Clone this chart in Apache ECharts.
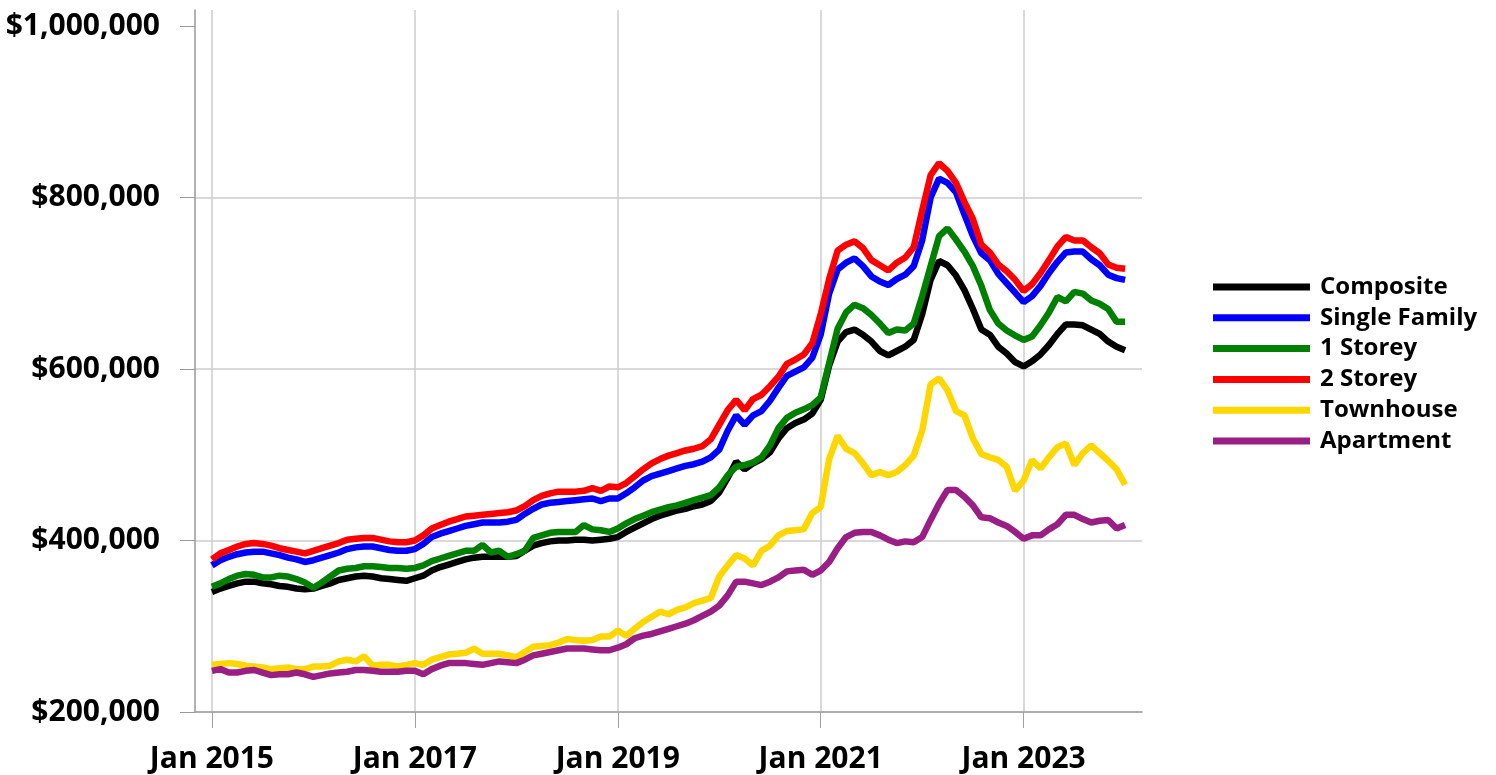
<!DOCTYPE html>
<html>
<head>
<meta charset="utf-8">
<script src="https://cdn.jsdelivr.net/npm/echarts@6/dist/echarts.min.js"></script>
<style>
html,body{margin:0;padding:0;background:#fff;}
#c{width:1496px;height:775px;}
</style>
</head>
<body>
<div id="c"></div>
<script>
// Monthly values in thousands of dollars, Jan 2015 .. Jan 2024
const years = [2014,2015,2016,2017,2018,2019,2020,2021,2022,2023,2024];
const monthNames = ['Jan','Feb','Mar','Apr','May','Jun','Jul','Aug','Sep','Oct','Nov','Dec'];
const seriesNames = ['Composite','Single Family','1 Storey','2 Storey','Townhouse','Apartment'];
const seriesColors = ['#000000','#0000ff','#008000','#ff0000','#ffd700','#9a1f84'];
const yTickValues = [200,400,600,800,1000];

const composite = [
340,344,347,350,352,352,350,349,347,346,344,343,
344,347,350,354,356,358,359,358,356,355,354,353,
356,359,365,369,372,375,378,380,381,381,381,381,
382,388,394,397,399,400,400,401,401,400,401,402,
404,410,415,420,425,429,432,435,437,440,442,446,
456,473,492,483,490,495,503,519,531,537,541,548,
564,604,632,643,646,640,632,621,616,621,626,634,
664,704,726,721,709,692,670,646,640,626,618,608,
603,609,617,628,641,652,652,651,646,641,632,626,
622];
const singleFamily = [
371,377,381,384,386,387,387,385,383,380,378,375,
377,380,383,386,390,392,393,393,391,389,388,388,
390,396,404,408,411,414,417,419,421,421,421,422,
424,431,437,442,444,445,446,447,448,449,446,449,
449,455,462,470,475,478,481,484,487,489,492,497,
506,528,546,535,546,551,563,578,592,597,602,613,
640,688,716,724,729,720,708,702,698,705,710,720,
750,800,822,817,806,780,755,735,727,711,700,689,
678,685,697,712,725,736,737,737,728,721,710,706,
704];
const oneStorey = [
346,350,355,359,361,360,357,357,359,358,355,351,
345,351,358,365,367,368,370,370,369,368,368,367,
368,371,376,379,382,385,388,388,395,386,388,381,
384,388,403,406,409,410,410,410,418,413,412,410,
414,420,425,429,433,436,439,441,444,447,450,453,
462,476,486,488,491,497,511,531,543,549,553,558,
567,607,647,666,675,671,663,653,642,646,645,653,
685,720,755,764,751,737,720,697,669,653,645,639,
634,638,651,666,684,679,690,688,680,676,670,655,
655];
const twoStorey = [
378,385,389,393,396,397,396,394,391,389,387,385,
388,391,394,397,401,402,403,403,401,399,398,398,
400,406,414,418,422,425,428,429,430,431,432,433,
435,440,447,452,455,457,457,457,458,461,458,463,
462,467,475,483,490,495,499,502,505,507,510,518,
535,552,564,552,565,570,580,591,606,611,617,630,
664,705,738,745,749,741,727,721,715,724,730,742,
785,826,840,831,817,795,775,745,736,722,714,704,
691,699,712,727,743,754,750,750,742,735,722,718,
717];
const townhouse = [
255,256,257,256,254,253,252,250,251,252,250,250,
253,253,254,259,261,259,265,254,255,255,253,255,
257,255,261,264,267,268,269,274,268,268,268,266,
264,270,276,277,278,281,285,284,283,284,288,288,
295,289,297,305,311,317,314,319,322,327,330,333,
358,371,383,379,371,388,394,406,411,412,413,432,
439,495,522,507,502,490,476,480,476,480,488,499,
528,582,589,575,551,546,519,501,497,494,486,458,
470,494,484,497,509,513,488,502,511,502,493,483,
465];
const apartment = [
248,250,246,246,248,249,246,243,244,244,246,244,
241,243,245,246,247,249,249,248,247,247,247,248,
248,244,250,254,257,257,257,256,255,257,259,258,
257,261,266,268,270,272,274,274,274,273,272,272,
275,279,286,289,291,294,297,300,303,307,312,317,
324,336,352,352,350,348,352,357,364,365,366,360,
365,375,391,404,409,410,410,406,401,397,399,398,
404,424,443,459,459,451,441,427,426,421,417,410,
402,406,406,413,419,430,430,425,421,423,424,414,
418];

// Category axis: Nov 2014 .. Mar 2024 (two empty months padding at each end)
const categories = [];
years.forEach(function (y) {
  monthNames.forEach(function (m, i) {
    const key = y * 12 + i;
    if (key >= 2014 * 12 + 10 && key <= 2024 * 12 + 2) categories.push(m + ' ' + y);
  });
});
const padStart = 2, padEnd = 2;
function padded(arr) {
  const out = [];
  for (let i = 0; i < padStart; i++) out.push(null);
  arr.forEach(function (v) { out.push(v); });
  for (let i = 0; i < padEnd; i++) out.push(null);
  return out;
}
const allSeries = [composite, singleFamily, oneStorey, twoStorey, townhouse, apartment];

function isMajor(idx, val) {
  const parts = String(val).split(' ');
  return parts[0] === 'Jan' && (parseInt(parts[1], 10) % 2 === 1);
}
const FONT = 'Open Sans';

const chart = echarts.init(document.getElementById('c'), null, {renderer: 'canvas'});
chart.setOption({
  animation: false,
  backgroundColor: '#ffffff',
  grid: {left: 195, right: 354, top: 10, bottom: 63, containLabel: false},
  legend: {
    orient: 'vertical',
    left: 1208,
    top: 270,
    padding: 5,
    icon: 'rect',
    itemWidth: 97,
    itemHeight: 7,
    itemGap: 6.8,
    data: seriesNames,
    textStyle: {fontFamily: FONT, fontWeight: 'bold', fontSize: 24, lineHeight: 22, color: '#000', padding: [0, 0, 0, 5]}
  },
  xAxis: {
    type: 'category',
    boundaryGap: false,
    data: categories,
    axisLine: {show: true, lineStyle: {color: '#a0a0a0', width: 1.5}},
    axisTick: {show: true, length: 16, interval: isMajor, lineStyle: {color: '#a0a0a0', width: 1}},
    axisLabel: {show: true, interval: isMajor, margin: 32, fontFamily: FONT, fontWeight: 'bold', fontSize: 30, color: '#000'},
    splitLine: {show: true, interval: isMajor, lineStyle: {color: '#cccccc', width: 1.5}}
  },
  yAxis: {
    type: 'value',
    min: 200,
    max: 1018.7,
    interval: 200,
    axisLine: {show: true, lineStyle: {color: '#999999', width: 1.5}},
    axisTick: {show: true, length: 15, customValues: yTickValues, lineStyle: {color: '#999999', width: 1}},
    axisLabel: {
      show: true, margin: 35, customValues: yTickValues,
      fontFamily: FONT, fontWeight: 'bold', fontSize: 30, color: '#000',
      formatter: function (v) { return '$' + (v * 1000).toLocaleString('en-US'); }
    },
    splitLine: {show: true, showMaxLine: false, lineStyle: {color: ['#cccccc','#cccccc','#cccccc','#cccccc','#cccccc','rgba(0,0,0,0)'], width: 1.5}}
  },
  series: seriesNames.map(function (name, i) {
    return {
      name: name,
      type: 'line',
      data: padded(allSeries[i]),
      symbol: 'none',
      connectNulls: false,
      color: seriesColors[i],
      lineStyle: {width: 6.5, color: seriesColors[i]},
      emphasis: {disabled: true}
    };
  })
});
</script>
</body>
</html>
